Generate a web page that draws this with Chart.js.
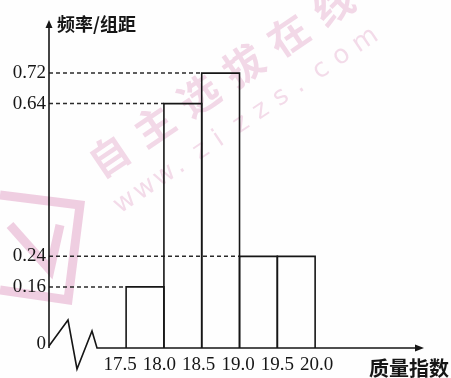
<!DOCTYPE html>
<html>
<head>
<meta charset="utf-8">
<script src="https://cdn.jsdelivr.net/npm/chart.js@4/dist/chart.umd.min.js"></script>
<style>
html,body{margin:0;padding:0;background:#fefefe;}
canvas{display:block;}
</style>
</head>
<body>
<canvas id="c" width="451" height="378"></canvas>
<script>
// ---- data ----
const binEdges = [17.5, 18.0, 18.5, 19.0, 19.5, 20.0];
const binHeights = [0.16, 0.64, 0.72, 0.24, 0.24];
const xTickLabels = ['17.5', '18.0', '18.5', '19.0', '19.5', '20.0'];
const yTickValues = [0, 0.16, 0.24, 0.64, 0.72];
const yTickLabels = ['0', '0.16', '0.24', '0.64', '0.72'];
const yAxisTitle = '频率/组距';
const xAxisTitle = '质量指数';

const X_MIN = 16.48, X_MAX = 21.44, Y_MAX = 0.859;
const INK = '#161616';

const datasets = [];
// bars as outlined rectangles
binHeights.forEach((h, i) => {
  datasets.push({
    data: [{x: binEdges[i], y: 0}, {x: binEdges[i], y: h}, {x: binEdges[i+1], y: h}, {x: binEdges[i+1], y: 0}],
    borderColor: INK, borderWidth: 1.6, pointRadius: 0, fill: false, tension: 0
  });
});
// dashed guide lines from the y axis to the first bar of each height
const seen = new Set();
binHeights.forEach((h, i) => {
  if (seen.has(h)) return;
  seen.add(h);
  datasets.push({
    data: [{x: X_MIN, y: h}, {x: binEdges[i], y: h}],
    borderColor: '#2a2a2a', borderWidth: 1.5, borderDash: [4, 3], pointRadius: 0, fill: false
  });
});

const decor = {
  id: 'decor',
  beforeDraw(chart) {
    const ctx = chart.ctx;
    ctx.save();
    // watermark
    ctx.fillStyle = 'rgba(215,130,180,0.30)';
    ctx.translate(112, 160);
    ctx.rotate(-34 * Math.PI / 180);
    ctx.font = 'bold 40px "Noto Sans CJK SC"';
    const wm = '自主选拔在线';
    for (let k = 0; k < wm.length; k++) ctx.fillText(wm[k], k * 54 - 20, 10);
    ctx.restore();
    ctx.save();
    ctx.fillStyle = 'rgba(215,130,180,0.28)';
    ctx.translate(120, 214);
    ctx.rotate(-34 * Math.PI / 180);
    ctx.font = '26px "DejaVu Sans"';
    const url = 'www.zizzs.com';
    for (let k = 0; k < url.length; k++) ctx.fillText(url[k], k * 24, 0);
    ctx.restore();
    // logo fragment at left
    ctx.save();
    ctx.strokeStyle = 'rgba(215,130,180,0.38)';
    ctx.lineWidth = 9;
    ctx.beginPath();
    ctx.moveTo(0, 195); ctx.lineTo(80, 205); ctx.lineTo(68, 300); ctx.lineTo(0, 290);
    ctx.moveTo(10, 225); ctx.lineTo(50, 270); ctx.lineTo(60, 225);
    ctx.stroke();
    ctx.restore();
  },
  afterDraw(chart) {
    const ctx = chart.ctx;
    const xs = chart.scales.x, ys = chart.scales.y;
    const x0 = xs.getPixelForValue(X_MIN);
    const y0 = ys.getPixelForValue(0);
    const yTop = ys.getPixelForValue(Y_MAX);
    const xEnd = xs.getPixelForValue(X_MAX);
    ctx.save();
    ctx.strokeStyle = INK; ctx.fillStyle = INK; ctx.lineWidth = 1.6;
    // y axis
    ctx.beginPath(); ctx.moveTo(x0, y0); ctx.lineTo(x0, yTop + 4); ctx.stroke();
    ctx.beginPath(); ctx.moveTo(x0, yTop); ctx.lineTo(x0 - 3.5, yTop + 8); ctx.lineTo(x0 + 3.5, yTop + 8); ctx.closePath(); ctx.fill();
    // axis break zigzag then x axis
    ctx.beginPath();
    ctx.moveTo(x0, y0 - 2);
    ctx.lineTo(x0 + 19, y0 - 28);
    ctx.lineTo(x0 + 28, y0 + 21);
    ctx.lineTo(x0 + 43, y0 - 17);
    ctx.lineTo(x0 + 48, y0);
    ctx.lineTo(xEnd - 4, y0);
    ctx.stroke();
    ctx.beginPath(); ctx.moveTo(xEnd, y0); ctx.lineTo(xEnd - 9, y0 - 3.5); ctx.lineTo(xEnd - 9, y0 + 3.5); ctx.closePath(); ctx.fill();
    // y tick labels
    ctx.font = '19px "Liberation Serif"';
    ctx.textAlign = 'right'; ctx.textBaseline = 'middle';
    yTickValues.forEach((v, i) => {
      const py = ys.getPixelForValue(v) + (v === 0 ? -4 : 0);
      ctx.fillText(yTickLabels[i], x0 - 3, py);
    });
    // x tick labels
    ctx.textAlign = 'center'; ctx.textBaseline = 'middle';
    binEdges.forEach((v, i) => {
      ctx.fillText(xTickLabels[i], xs.getPixelForValue(v) - 6 + i * 1.5, y0 + 17);
    });
    // axis titles
    ctx.font = 'bold 18px "Noto Sans CJK SC"';
    ctx.textAlign = 'left'; ctx.textBaseline = 'middle';
    ctx.fillText(yAxisTitle, x0 + 8, yTop + 4);
    ctx.font = 'bold 20px "Noto Sans CJK SC"';
    ctx.fillText(xAxisTitle, 369, y0 + 20);
    ctx.restore();
  }
};

new Chart(document.getElementById('c'), {
  type: 'line',
  data: {datasets},
  options: {
    responsive: false,
    animation: false,
    events: [],
    layout: {padding: {left: 49, right: 27, top: 20, bottom: 30}},
    plugins: {legend: {display: false}, tooltip: {enabled: false}},
    scales: {
      x: {type: 'linear', min: X_MIN, max: X_MAX, display: false},
      y: {type: 'linear', min: 0, max: Y_MAX, display: false}
    }
  },
  plugins: [decor]
});
</script>
</body>
</html>
